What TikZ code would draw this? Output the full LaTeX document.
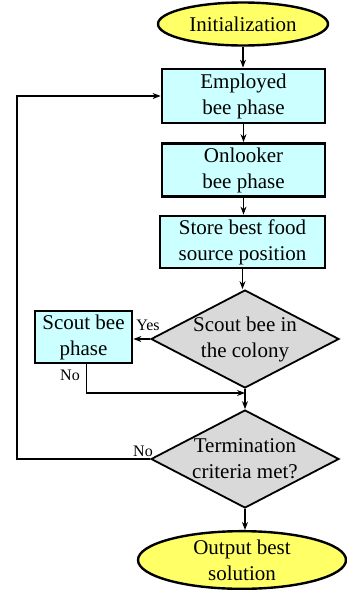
\documentclass[tikz,border=0pt]{standalone}
\usepackage{fontspec}
\setmainfont{Liberation Serif}
\usetikzlibrary{shapes.geometric,arrows.meta}
\definecolor{boxcyan}{RGB}{204,255,255}
\definecolor{termyellow}{RGB}{255,255,102}
\definecolor{diagray}{RGB}{217,217,217}
\begin{document}
\begin{tikzpicture}
[x=1pt,y=-1pt,>={Stealth[length=8pt,width=6pt]},line width=1.1pt,
 flowbox/.style = {draw, fill=boxcyan, line width=2.8pt, align=center, inner sep=0pt,
   font=\fontsize{21}{26}\selectfont},
 terminal/.style = {draw, ellipse, fill=termyellow, line width=2.4pt, align=center, inner sep=0pt,
   font=\fontsize{21}{26}\selectfont},
 decision/.style = {draw, diamond, fill=diagray, line width=1.8pt, align=center, inner sep=-1pt,
   aspect=1.92, minimum width=188pt, minimum height=98pt, font=\fontsize{21}{26}\selectfont},
 lbl/.style = {inner sep=0pt, font=\fontsize{16}{19}\selectfont},]
\useasboundingbox (0,0) rectangle (346,590);
% nodes
\node (Init) at (243,24)[terminal, minimum width=170pt, minimum height=43pt] {Initialization};
\node (Employed) at (243.5,96)[flowbox, minimum width=163pt, minimum height=54pt] {Employed\\bee phase};
\node (Onlooker) at (243.5,170)[flowbox, minimum width=163pt, minimum height=53pt] {Onlooker\\bee phase};
\node (Store) at (242.5,242)[flowbox, minimum width=165pt, minimum height=52pt] {Store best food\\source position};
\node (Colony) at (245,339)[decision] {Scout bee in\\the colony};
\node (Scout) at (83.5,337)[flowbox, minimum width=97pt, minimum height=52pt] {Scout bee\\phase};
\node (Term) at (245,459)[decision] {Termination\\criteria met?};
\node (Output) at (242,560)[terminal, minimum width=208pt, minimum height=56pt] {Output best\\solution};
\node (yes) at (148,325)[lbl] {Yes};
\node (noscout) at (70,375)[lbl] {No};
\node (noterm) at (143,451)[lbl] {No};
\coordinate (join) at (245,393);
\coordinate (loopcorner) at (17,459);
% connectors
\draw[->] (Init) -- (Init |- Employed.north);
\draw[->] (Employed) -- (Employed |- Onlooker.north);
\draw[->] (Onlooker) -- (Onlooker |- Store.north);
\draw[->] (Store) -- (Store |- Colony.north);
\draw[->] (Colony.west) -- (Scout.east |- Colony.west);
\draw[->] ([xshift=3pt]Scout.south) |- (join);
\draw[->] (Colony.south) -- (Term.north);
\draw[->] (Term.west) -- (loopcorner) |- (Employed.west);
\draw[->] (Term.south) -- (Term.south |- Output.north);
\end{tikzpicture}
\end{document}
